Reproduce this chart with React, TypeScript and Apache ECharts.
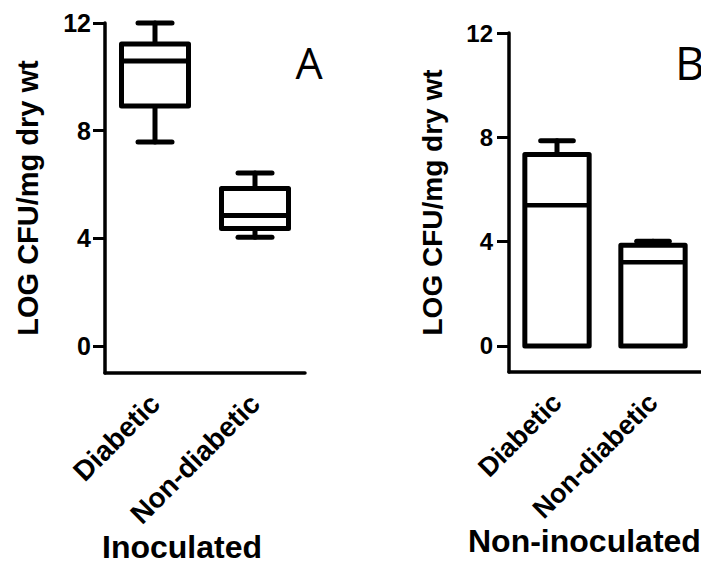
import React, { useEffect, useRef } from "react";
import * as echarts from "echarts";

const categories = ["Diabetic", "Non-diabetic"];
const yTicks = [0, 4, 8, 12];

// Panel A – Inoculated (box and whisker)
const inocLow = [7.58, 4.04];
const inocQ1 = [8.92, 4.37];
const inocMedian = [10.59, 4.85];
const inocQ3 = [11.22, 5.85];
const inocHigh = [12.0, 6.43];

// Panel B – Non-inoculated
const nonLow = [0, 0];
const nonQ1 = [0, 0];
const nonMedian = [5.39, 3.21];
const nonQ3 = [7.34, 3.86];
const nonHigh = [7.87, 4.01];

const FONT = "'Liberation Sans', Arial, sans-serif";

function buildData(lo: number[], q1: number[], med: number[], q3: number[], hi: number[]) {
  return categories.map((_, i) => [i, lo[i], q1[i], med[i], q3[i], hi[i]]);
}

function makeRender(lw: number, medLw: number) {
  return (params: any, api: any) => {
    const idx = api.value(0);
    const lo = api.value(1);
    const q1 = api.value(2);
    const med = api.value(3);
    const q3 = api.value(4);
    const hi = api.value(5);
    const band = api.size([1, 0])[0];
    const bw = band * 0.67;
    const cw = band * 0.34;
    const [cx, yLo] = api.coord([idx, lo]);
    const yQ1 = api.coord([idx, q1])[1];
    const yMed = api.coord([idx, med])[1];
    const yQ3 = api.coord([idx, q3])[1];
    const yHi = api.coord([idx, hi])[1];
    const ls = { stroke: "#000", lineWidth: lw, lineCap: "round", fill: null };
    const children: any[] = [];
    if (hi > q3) {
      children.push({ type: "line", shape: { x1: cx, y1: yQ3, x2: cx, y2: yHi }, style: ls });
      children.push({ type: "line", shape: { x1: cx - cw / 2, y1: yHi, x2: cx + cw / 2, y2: yHi }, style: ls });
    }
    if (lo < q1) {
      children.push({ type: "line", shape: { x1: cx, y1: yQ1, x2: cx, y2: yLo }, style: ls });
      children.push({ type: "line", shape: { x1: cx - cw / 2, y1: yLo, x2: cx + cw / 2, y2: yLo }, style: ls });
    }
    children.push({
      type: "rect",
      shape: { x: cx - bw / 2, y: yQ3, width: bw, height: yQ1 - yQ3 },
      style: { fill: "#fff", stroke: "#000", lineWidth: lw, lineJoin: "round" },
    });
    children.push({
      type: "line",
      shape: { x1: cx - bw / 2, y1: yMed, x2: cx + bw / 2, y2: yMed },
      style: { stroke: "#000", lineWidth: medLw },
    });
    return { type: "group", children };
  };
}

export default function App() {
  const ref = useRef<HTMLDivElement>(null);
  useEffect(() => {
    if (!ref.current) return;
    const chart = echarts.init(ref.current, null, { renderer: "svg" });
    const xAxisBase = (grid: number, fs: number, margin: number) => ({
      type: "category",
      gridIndex: grid,
      data: categories,
      axisLine: { onZero: false, lineStyle: { color: "#000", width: 3.5 } },
      axisTick: { alignWithLabel: true, length: 12, lineStyle: { color: "#000", width: 3 } },
      axisLabel: {
        rotate: 45,
        margin,
        color: "#000",
        fontWeight: "bold",
        fontSize: fs,
        fontFamily: FONT,
      },
      splitLine: { show: false },
    });
    const yAxisBase = (grid: number, fs: number, nfs: number, margin: number) => ({
      type: "value",
      gridIndex: grid,
      min: -1,
      max: 12,
      name: "LOG CFU/mg dry wt",
      nameLocation: "middle",
      nameRotate: 90,
      nameGap: 63,
      nameTextStyle: { color: "#000", fontWeight: "bold", fontSize: nfs, fontFamily: FONT },
      axisLine: { show: true, lineStyle: { color: "#000", width: 3.5 } },
      axisTick: { show: true, length: 12, customValues: yTicks, lineStyle: { color: "#000", width: 3 } },
      axisLabel: {
        customValues: yTicks,
        margin,
        color: "#000",
        fontWeight: "bold",
        fontSize: fs,
        fontFamily: FONT,
      },
      splitLine: { show: false },
    });
    chart.setOption({
      animation: false,
      backgroundColor: "#fff",
      grid: [
        { left: 105, top: 23, width: 200, height: 350 },
        { left: 509, top: 33, width: 202, height: 339 },
      ],
      xAxis: [xAxisBase(0, 28, 26), xAxisBase(1, 27, 26)],
      yAxis: [yAxisBase(0, 25, 29, 14), yAxisBase(1, 24, 28, 16)],
      series: [
        {
          type: "custom",
          xAxisIndex: 0,
          yAxisIndex: 0,
          renderItem: makeRender(5, 5),
          encode: { x: 0, y: [1, 2, 3, 4, 5] },
          data: buildData(inocLow, inocQ1, inocMedian, inocQ3, inocHigh),
          clip: false,
        },
        {
          type: "custom",
          xAxisIndex: 1,
          yAxisIndex: 1,
          renderItem: makeRender(5, 4.5),
          encode: { x: 0, y: [1, 2, 3, 4, 5] },
          data: buildData(nonLow, nonQ1, nonMedian, nonQ3, nonHigh),
          clip: false,
        },
      ],
      graphic: [
        {
          type: "text",
          x: 309,
          y: 62,
          style: { text: "A", fontSize: 43, fontFamily: "'Open Sans', sans-serif", fill: "#000", align: "center", verticalAlign: "middle" },
        },
        {
          type: "text",
          x: 675,
          y: 62,
          style: { text: "B", fontSize: 46, fontFamily: "'Open Sans', sans-serif", fill: "#000", align: "left", verticalAlign: "middle" },
        },
        {
          type: "text",
          x: 182,
          y: 547,
          style: { text: "Inoculated", fontSize: 32, fontWeight: "bold", fontFamily: FONT, fill: "#000", align: "center", verticalAlign: "middle" },
        },
        {
          type: "text",
          x: 468,
          y: 541,
          style: { text: "Non-inoculated", fontSize: 32, fontWeight: "bold", fontFamily: FONT, fill: "#000", align: "left", verticalAlign: "middle" },
        },
      ],
    });
    return () => chart.dispose();
  }, []);
  return (
    <div
      ref={ref}
      style={{ position: "absolute", left: 0, top: 0, width: 701, height: 565, background: "#fff" }}
    />
  );
}
